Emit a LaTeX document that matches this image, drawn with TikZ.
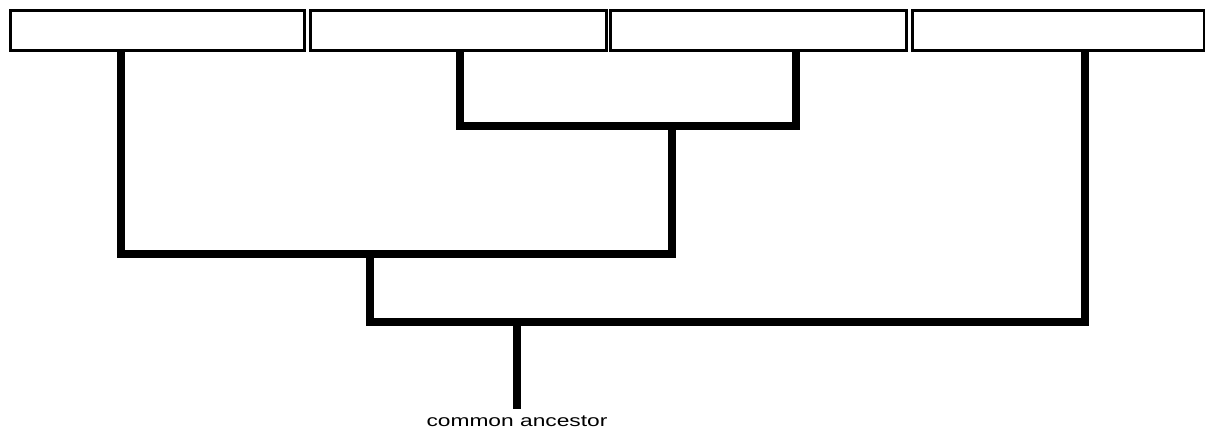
\documentclass[tikz,border=0pt]{standalone}
\usepackage{fontspec}
\setmainfont{Liberation Sans}
\usepackage{graphicx}
\begin{document}
\begin{tikzpicture}[x=1pt,y=-1pt,
  leaf/.style={draw=black,line width=2.6pt,fill=white,minimum width=294pt,minimum height=40pt,inner sep=0pt,anchor=north west},
  branch/.style={line width=8.5pt,line join=miter,line cap=butt},
  lbl/.style={inner sep=0pt,font=\fontsize{16.5}{18}\selectfont}]
\useasboundingbox (0,0) rectangle (1205,430);
\node[leaf,minimum width=294pt] (b1) at (9,9) {};
\node[leaf,minimum width=296pt] (b2) at (309,9) {};
\node[leaf,minimum width=296pt] (b3) at (609,9) {};
\node[leaf,minimum width=292pt] (b4) at (911,9) {};
\coordinate (j23) at (672,126);
\coordinate (j123) at (370,254);
\coordinate (jall) at (517,322);
\coordinate (root) at (517,409);
\draw[branch] (b2.south west -| 460,0) -- (460,126) -- (796,126) -- (b3.south west -| 796,0);
\draw[branch] (b1.south west -| 121,0) -- (121,254) -- (672,254) -- (j23);
\draw[branch] (j123) -- (370,322) -- (1085,322) -- (b4.south west -| 1085,0);
\draw[branch] (jall) -- (root);
\node[lbl] (ca) at (517,421) {\scalebox{1.38}[1]{common ancestor}};
\end{tikzpicture}
\end{document}
